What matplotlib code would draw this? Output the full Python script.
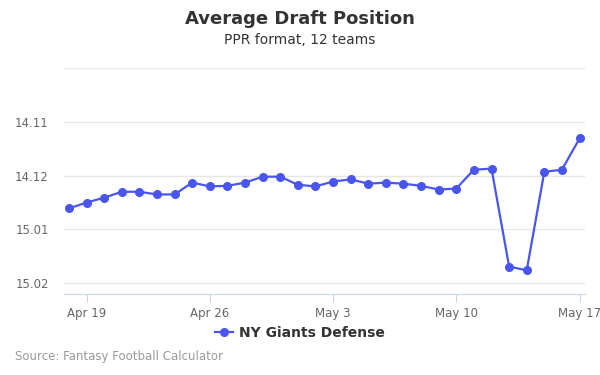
import numpy as np
import matplotlib.pyplot as plt
import matplotlib.dates as mdates
from datetime import date, timedelta

# ADP as overall pick (14.11 -> 167, 15.02 -> 170)
start = date(2020, 4, 18)
adp = [168.61, 168.50, 168.41, 168.30, 168.30, 168.35, 168.35, 168.13, 168.20, 168.19,
       168.13, 168.02, 168.02, 168.17, 168.20, 168.11, 168.07, 168.15, 168.13, 168.15,
       168.19, 168.26, 168.24, 167.89, 167.87, 169.69, 169.76, 167.93, 167.89, 167.31]
days = [start + timedelta(days=i) for i in range(len(adp))]
ytick_vals = [167, 168, 169, 170]
ytick_labels = ["14.11", "14.12", "15.01", "15.02"]
xtick_days = [date(2020, 4, 19), date(2020, 4, 26), date(2020, 5, 3), date(2020, 5, 10), date(2020, 5, 17)]
xtick_labels = ["Apr 19", "Apr 26", "May 3", "May 10", "May 17"]

color = "#4a55ee"

fig = plt.figure(figsize=(6, 3.75), dpi=100)
ax = fig.add_axes([0.1067, 0.216, 0.868, 0.6027])

ax.plot(days, adp, color=color, lw=1.6, marker="o", ms=5.5, label="NY Giants Defense", zorder=3)

x0 = mdates.date2num(start)
ax.set_xlim(x0 - 0.28, x0 + 29.3)
ax.set_ylim(170.2, 166)

ax.set_yticks([166] + ytick_vals)
ax.set_yticklabels([""] + ytick_labels)
ax.set_xticks(xtick_days)
ax.set_xticklabels(xtick_labels)

ax.grid(axis="y", color="#e6e6e6", lw=1)
ax.set_axisbelow(True)
for s in ["top", "right", "left"]:
    ax.spines[s].set_visible(False)
ax.spines["bottom"].set_color("#ccd6eb")
ax.tick_params(axis="y", length=0, labelsize=8.5, labelcolor="#666666", pad=11)
ax.tick_params(axis="x", length=6, color="#ccd6eb", labelsize=8.5, labelcolor="#666666", pad=3)

fig.text(0.5, 0.948, "Average Draft Position", ha="center", va="center",
         fontsize=13, fontweight="bold", color="#333333")
fig.text(0.5, 0.892, "PPR format, 12 teams", ha="center", va="center",
         fontsize=10, color="#333333")

leg = fig.legend(loc="center", bbox_to_anchor=(0.5, 0.113), frameon=False,
                 handlelength=1.3, handletextpad=0.4, prop={"weight": "bold", "size": 10})
for t in leg.get_texts():
    t.set_color("#333333")

fig.text(0.025, 0.05, "Source: Fantasy Football Calculator", ha="left", va="center",
         fontsize=8.5, color="#999999")

fig.savefig("out.png", dpi=100)
